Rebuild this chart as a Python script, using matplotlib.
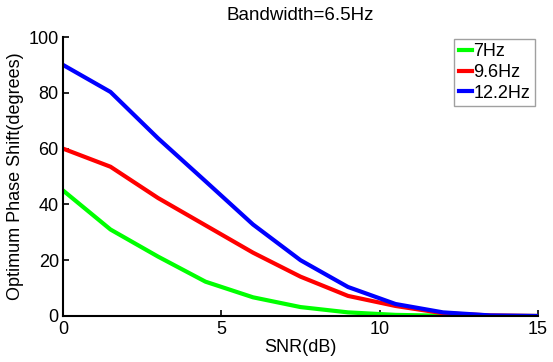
import matplotlib
matplotlib.use("Agg")
import matplotlib.pyplot as plt

plt.rcParams['font.family'] = ['Liberation Sans', 'DejaVu Sans']

snr = [0, 1.5, 3, 4.5, 6, 7.5, 9, 10.5, 12, 13.5, 15]
shift_7hz = [45, 31, 21.3, 12.3, 6.7, 3.2, 1.3, 0.4, 0.1, 0, 0]
shift_96hz = [60, 53.5, 42.3, 32.5, 22.7, 14.1, 7.2, 3.6, 1.0, 0.2, 0]
shift_122hz = [90, 80.3, 63.7, 48.3, 32.8, 20, 10.4, 4.3, 1.3, 0.2, 0]
labels = ['7Hz', '9.6Hz', '12.2Hz']

fs = 13
fig = plt.figure(figsize=(5.53, 3.62), dpi=100)
ax = fig.add_axes([63 / 553, 1 - 316 / 362, 475 / 553, 279 / 362])

ax.plot(snr, shift_7hz, color=(0, 1, 0), lw=3, label=labels[0])
ax.plot(snr, shift_96hz, color=(1, 0, 0), lw=3, label=labels[1])
ax.plot(snr, shift_122hz, color=(0, 0, 1), lw=3, label=labels[2])

ax.set_xlim(0, 15)
ax.set_ylim(0, 100)
ax.set_xticks([0, 5, 10, 15])
ax.set_yticks([0, 20, 40, 60, 80, 100])
ax.spines['top'].set_visible(False)
ax.spines['right'].set_visible(False)
ax.spines['left'].set_linewidth(1.5)
ax.spines['bottom'].set_linewidth(1.5)
ax.tick_params(direction='in', length=4, width=1.2, labelsize=fs)
ax.tick_params(axis='x', pad=3.5)
ax.tick_params(axis='y', pad=3)

ax.set_xlabel('SNR(dB)', fontsize=fs, labelpad=1)
ax.set_ylabel('Optimum Phase Shift(degrees)', fontsize=fs, labelpad=3)
ax.set_title('Bandwidth=6.5Hz', fontsize=13.5, pad=12)

leg = ax.legend(loc='upper right', bbox_to_anchor=(0.997, 1.0), fontsize=fs,
                handlelength=0.7, handletextpad=0.1, borderpad=0.25,
                labelspacing=0.2, borderaxespad=0.1, fancybox=False, framealpha=1)
leg.get_frame().set_edgecolor('#a0a0a0')
leg.get_frame().set_linewidth(1.0)

fig.savefig('out.png', dpi=100)
